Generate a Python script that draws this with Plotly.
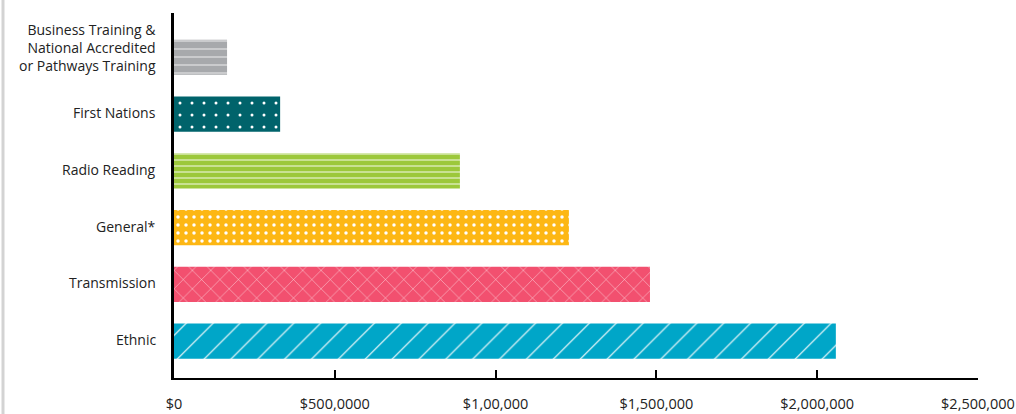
import plotly.graph_objects as go

categories = ["Ethnic", "Transmission", "General*", "Radio Reading", "First Nations",
              "Business Training &<br>National Accredited<br>or Pathways Training"]
values = [2058000, 1480000, 1228000, 889000, 330000, 165000]
bar_colors = ["#00A6C8", "#F2506F", "#FDB714", "#9CC83B", "#00636B", "#A7A9AC"]
pattern_shapes = ["/", "x", ".", "-", ".", "-"]
pattern_sizes = [19, 13, 8, 6, 12, 8]
pattern_solidity = [0.06, 0.06, 0.15, 0.15, 0.05, 0.1]

tick_values = [0, 500000, 1000000, 1500000, 2000000, 2500000]
tick_labels = ["$0", "$500,0000", "$1,00,000", "$1,500,000", "$2,000,000", "$2,500,000"]

W, H = 1016, 414
ML, MR, MT, MB = 174, 38, 13, 36

fig = go.Figure()
for cat, val, col, shp, sz, sol in zip(categories, values, bar_colors, pattern_shapes,
                                       pattern_sizes, pattern_solidity):
    fig.add_trace(go.Bar(
        x=[val], y=[cat], orientation="h", width=0.62, name=cat.replace("<br>", " "),
        marker=dict(
            color=col, line=dict(width=0),
            pattern=dict(shape=shp, fgcolor="white", bgcolor=col, size=sz,
                         solidity=sol, fillmode="replace"),
        ),
        hoverinfo="x+y",
    ))

# category labels as annotations (multi-line label sits a little higher, as in the original)
for cat in categories:
    fig.add_annotation(
        x=0, xref="paper", y=cat, yref="y", text=cat, showarrow=False,
        xanchor="right", yanchor="middle", align="right", xshift=-16,
        yshift=10 if "<br>" in cat else 1.5,
        font=dict(family="Open Sans, Lato, Arial, sans-serif", size=14, color="#222222"),
    )

pw = W - ML - MR
ph = H - MT - MB
fig.add_shape(type="line", xref="paper", yref="paper",
              x0=(3 - ML) / pw, x1=(3 - ML) / pw, y0=-MB / ph, y1=1 + MT / ph,
              line=dict(color="#D3D3D3", width=3))

fig.update_layout(
    width=W, height=H, barmode="overlay",
    margin=dict(l=ML, r=MR, t=MT, b=MB, pad=0),
    paper_bgcolor="white", plot_bgcolor="white",
    showlegend=False,
    font=dict(family="Open Sans, Lato, Arial, sans-serif", size=14, color="#222222"),
    xaxis=dict(
        range=[0, 2500000], tickvals=tick_values, ticktext=tick_labels,
        showgrid=False, zeroline=False, showline=True, linecolor="black", linewidth=1.5,
        ticks="inside", ticklen=8, tickwidth=1.5, tickcolor="black",
        ticklabelstandoff=12, tickfont=dict(size=14.5, color="#222222"),
        automargin=False,
    ),
    yaxis=dict(
        range=[-0.65, 5.78], categoryorder="array", categoryarray=categories,
        showgrid=False, zeroline=False, showline=True, linecolor="black", linewidth=2.5,
        ticks="", showticklabels=False, automargin=False,
    ),
)

fig.write_html("out.html")
